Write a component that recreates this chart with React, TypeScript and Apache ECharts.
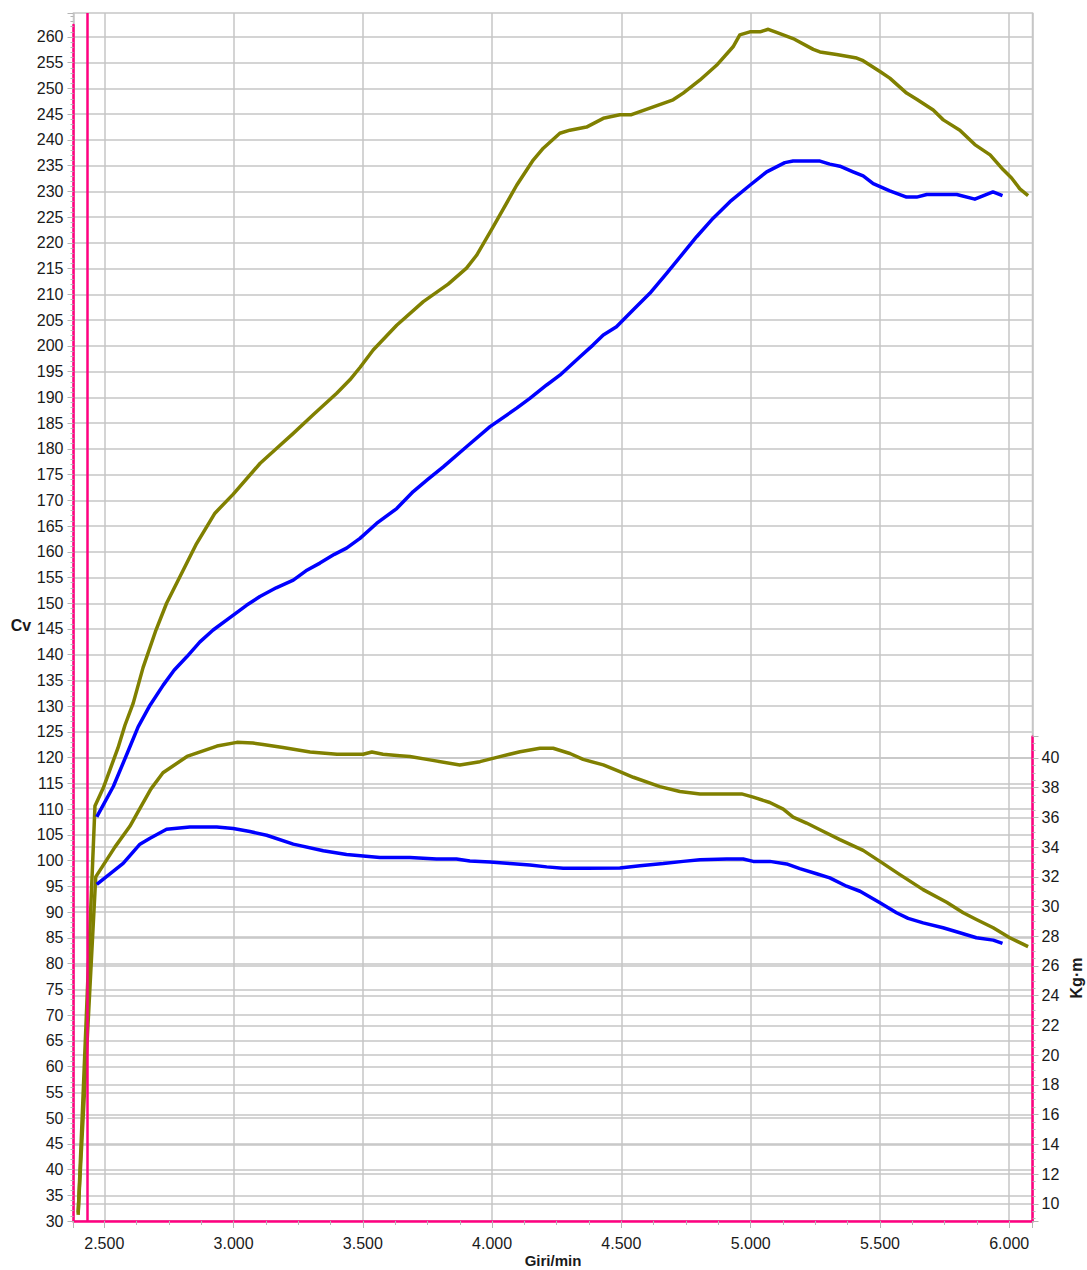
import React, { useEffect, useRef } from "react";
import * as echarts from "echarts";

// ---- data (rpm, value) ----
const powerOlive: [number, number][] = [
  [2399, 31.2], [2464, 110.6], [2496, 114.1], [2553, 121.9], [2580, 126.3], [2612, 130.6],
  [2650, 137.5], [2700, 144.8], [2741, 150.0], [2793, 155.2], [2857, 161.6], [2928, 167.5],
  [2999, 171.2], [3103, 177.2], [3165, 180.0], [3231, 183.0], [3308, 186.6], [3399, 190.8],
  [3450, 193.4], [3489, 195.8], [3540, 199.2], [3631, 204.0], [3734, 208.6], [3830, 212.0],
  [3901, 215.1], [3940, 217.6], [4004, 223.1], [4095, 231.2], [4159, 236.1], [4198, 238.4],
  [4262, 241.3], [4301, 241.9], [4365, 242.5], [4430, 244.2], [4494, 244.9], [4539, 244.9],
  [4610, 246.2], [4700, 247.8], [4739, 249.1], [4803, 251.6], [4868, 254.5], [4932, 258.1],
  [4958, 260.4], [4997, 261.0], [5036, 261.0], [5068, 261.5], [5100, 260.9], [5164, 259.7],
  [5242, 257.6], [5268, 257.1], [5332, 256.6], [5410, 255.9], [5435, 255.4], [5500, 253.3],
  [5538, 252.0], [5603, 249.1], [5642, 247.9], [5706, 245.8], [5745, 243.9], [5809, 241.9],
  [5867, 239.1], [5926, 237.1], [5977, 234.2], [6009, 232.6], [6041, 230.5], [6073, 229.2],
];

const powerBlue: [number, number][] = [
  [2471, 108.5], [2535, 114.4], [2590, 121.0], [2631, 126.0], [2677, 130.2], [2728, 134.1],
  [2770, 137.0], [2819, 139.6], [2870, 142.5], [2921, 144.8], [2999, 147.7], [3050, 149.6],
  [3102, 151.3], [3165, 153.0], [3231, 154.5], [3280, 156.3], [3334, 157.8], [3390, 159.5],
  [3437, 160.7], [3489, 162.6], [3553, 165.5], [3631, 168.4], [3695, 171.7], [3750, 174.0],
  [3811, 176.5], [3901, 180.4], [3992, 184.3], [4095, 187.9], [4146, 189.8], [4211, 192.4],
  [4262, 194.3], [4340, 197.9], [4391, 200.2], [4430, 202.1], [4481, 203.7], [4546, 207.0],
  [4610, 210.2], [4675, 214.1], [4739, 218.0], [4791, 221.2], [4855, 224.8], [4920, 228.0],
  [4997, 231.2], [5062, 233.8], [5132, 235.6], [5164, 235.9], [5268, 235.9], [5306, 235.3],
  [5345, 234.9], [5396, 233.8], [5435, 233.0], [5474, 231.5], [5538, 230.1], [5603, 228.9],
  [5642, 228.9], [5681, 229.4], [5797, 229.4], [5867, 228.5], [5937, 229.9], [5974, 229.2],
];

const torqueOlive: [number, number][] = [
  [2399, 9.4], [2467, 32.0], [2541, 34.0], [2599, 35.4], [2638, 36.6], [2680, 37.9],
  [2727, 39.0], [2820, 40.1], [2936, 40.8], [3013, 41.05], [3075, 41.0], [3114, 40.9],
  [3191, 40.7], [3296, 40.4], [3400, 40.25], [3501, 40.25], [3535, 40.4], [3578, 40.25],
  [3643, 40.15], [3682, 40.1], [3759, 39.87], [3875, 39.53], [3953, 39.75], [4030, 40.09],
  [4108, 40.42], [4185, 40.65], [4236, 40.65], [4301, 40.3], [4352, 39.9], [4430, 39.53],
  [4494, 39.08], [4546, 38.7], [4649, 38.07], [4726, 37.74], [4804, 37.58], [4881, 37.58],
  [4965, 37.58], [5010, 37.36], [5074, 37.0], [5126, 36.56], [5164, 36.02], [5216, 35.62],
  [5268, 35.17], [5345, 34.5], [5435, 33.78], [5500, 33.04], [5577, 32.15], [5667, 31.14],
  [5758, 30.29], [5822, 29.58], [5873, 29.13], [5938, 28.57], [6002, 27.9], [6073, 27.3],
];

const torqueBlue: [number, number][] = [
  [2471, 31.5], [2573, 32.9], [2638, 34.2], [2677, 34.6], [2741, 35.2], [2831, 35.35],
  [2935, 35.35], [2999, 35.25], [3063, 35.05], [3128, 34.8], [3231, 34.2], [3347, 33.75],
  [3437, 33.5], [3566, 33.3], [3682, 33.3], [3785, 33.2], [3862, 33.2], [3914, 33.07],
  [3992, 33.0], [4069, 32.89], [4146, 32.8], [4211, 32.67], [4275, 32.57], [4365, 32.57],
  [4494, 32.6], [4572, 32.75], [4662, 32.89], [4739, 33.04], [4804, 33.15], [4907, 33.2],
  [4971, 33.2], [5010, 33.04], [5074, 33.04], [5139, 32.87], [5190, 32.55], [5255, 32.21],
  [5306, 31.93], [5371, 31.37], [5423, 31.03], [5500, 30.25], [5564, 29.58], [5609, 29.2],
  [5667, 28.9], [5744, 28.57], [5809, 28.24], [5873, 27.9], [5938, 27.74], [5974, 27.52],
];

const cursorRpm = 2433;

// axis ranges
const rpmMin = 2381;
const rpmMax = 6090;
const cvMin = 30;
const cvMaxFrame = 264.66;
const cvMaxAxisLine = 262.33;
const kgmMin = 8.84;
const kgmMax = 41.43;

const OLIVE = "#808000";
const BLUE = "#0000ff";
const MAGENTA = "#ff0080";
const GRID = "#c6c6c6";
const TICK = "#b4b4b4";
const FONT = "'Liberation Sans', Arial, Helvetica, sans-serif";
const TEXT = "#1a1a1a";

const gridBox = { left: 73.5, right: 54.5, bottom: 49, containLabel: false, outerBoundsMode: "none" };

export default function App() {
  const ref = useRef<HTMLDivElement>(null);

  useEffect(() => {
    document.body.style.margin = "0";
    if (!ref.current) return;
    const chart = echarts.init(ref.current, undefined, { renderer: "svg" });

    const hiddenX = (gridIndex: number) => ({
      type: "value",
      gridIndex,
      min: rpmMin,
      max: rpmMax,
      show: false,
    });

    const option: any = {
      animation: false,
      backgroundColor: "#ffffff",
      grid: [
        { ...gridBox, top: 13, show: true, borderColor: GRID, borderWidth: 1.5, backgroundColor: "transparent" },
        { ...gridBox, top: 25, show: false },
        { ...gridBox, top: 736.7, show: false },
      ],
      xAxis: [
        {
          type: "value",
          gridIndex: 0,
          min: rpmMin,
          max: rpmMax,
          splitNumber: 7,
          position: "bottom",
          axisLine: { show: true, onZero: false, lineStyle: { color: MAGENTA, width: 2.5 } },
          axisTick: { show: true, length: 7, lineStyle: { color: TICK, width: 1 } },
          minorTick: { show: true, splitNumber: 4, length: 4, lineStyle: { color: TICK, width: 1 } },
          minorSplitLine: { show: false },
          axisLabel: {
            show: true,
            showMinLabel: false,
            showMaxLabel: false,
            fontSize: 16,
            fontFamily: FONT,
            color: TEXT,
            margin: 14,
            formatter: (v: number) => (Math.abs(v % 500) < 1e-6 ? (v / 1000).toFixed(3) : ""),
          },
          splitLine: { show: true, lineStyle: { color: GRID, width: 1.5 } },
          name: "Giri/min",
          nameLocation: "middle",
          nameGap: 31,
          nameMoveOverlap: false,
          nameTextStyle: { fontSize: 15, fontWeight: "bold", fontFamily: FONT, color: TEXT, lineHeight: 16 },
        },
        hiddenX(1),
        hiddenX(2),
      ],
      yAxis: [
        {
          type: "value",
          gridIndex: 0,
          min: cvMin,
          max: cvMaxFrame,
          interval: 5,
          position: "left",
          axisLine: { show: false },
          axisTick: { show: true, length: 6, lineStyle: { color: TICK, width: 1 } },
          minorTick: { show: true, splitNumber: 5, length: 3, lineStyle: { color: TICK, width: 1 } },
          axisLabel: {
            show: true,
            fontSize: 16,
            fontFamily: FONT,
            color: TEXT,
            margin: 10,
            formatter: (v: number) => (Math.abs(v % 5) < 1e-6 ? String(v) : ""),
          },
          splitLine: { show: true, showMaxLine: false, lineStyle: { color: GRID, width: 1.5 } },
        },
        {
          type: "value",
          gridIndex: 1,
          min: cvMin,
          max: cvMaxAxisLine,
          position: "left",
          axisLine: { show: true, onZero: false, lineStyle: { color: MAGENTA, width: 2.5 } },
          axisTick: { show: false },
          axisLabel: { show: false },
          splitLine: { show: false },
        },
        {
          type: "value",
          gridIndex: 2,
          min: kgmMin,
          max: kgmMax,
          splitNumber: 16,
          position: "right",
          axisLine: { show: true, onZero: false, lineStyle: { color: MAGENTA, width: 2.5 } },
          axisTick: { show: true, length: 6, lineStyle: { color: TICK, width: 1 } },
          minorTick: { show: true, splitNumber: 4, length: 3, lineStyle: { color: TICK, width: 1 } },
          axisLabel: {
            show: true,
            showMinLabel: false,
            showMaxLabel: false,
            fontSize: 16,
            fontFamily: FONT,
            color: TEXT,
            margin: 9,
            formatter: (v: number) =>
              Math.abs(v - Math.round(v)) < 1e-6 && Math.round(v) % 2 === 0 ? String(Math.round(v)) : "",
          },
          splitLine: { show: true, showMinLine: false, showMaxLine: false, lineStyle: { color: GRID, width: 1.5 } },
        },
      ],
      graphic: [
        {
          type: "text",
          x: 21,
          y: 625,
          style: { text: "Cv", font: `bold 16px ${FONT}`, fill: TEXT, textAlign: "center", textVerticalAlign: "middle" },
        },
        {
          type: "text",
          x: 1076,
          y: 978,
          rotation: Math.PI / 2,
          style: { text: "Kg·m", font: `bold 16px ${FONT}`, fill: TEXT, textAlign: "center", textVerticalAlign: "middle" },
        },
      ],
      series: [
        {
          type: "line",
          name: "Cv olive",
          xAxisIndex: 0,
          yAxisIndex: 0,
          data: powerOlive,
          showSymbol: false,
          lineStyle: { color: OLIVE, width: 3.5, join: "round" },
          itemStyle: { color: OLIVE },
          z: 3,
          markLine: {
            silent: true,
            symbol: ["none", "none"],
            label: { show: false },
            lineStyle: { color: MAGENTA, width: 2.5, type: "solid" },
            data: [{ xAxis: cursorRpm }],
          },
        },
        {
          type: "line",
          name: "Cv blue",
          xAxisIndex: 0,
          yAxisIndex: 0,
          data: powerBlue,
          showSymbol: false,
          lineStyle: { color: BLUE, width: 3.5, join: "round" },
          itemStyle: { color: BLUE },
          z: 3,
        },
        {
          type: "line",
          name: "Kgm olive",
          xAxisIndex: 2,
          yAxisIndex: 2,
          data: torqueOlive,
          showSymbol: false,
          lineStyle: { color: OLIVE, width: 3.5, join: "round" },
          itemStyle: { color: OLIVE },
          z: 3,
        },
        {
          type: "line",
          name: "Kgm blue",
          xAxisIndex: 2,
          yAxisIndex: 2,
          data: torqueBlue,
          showSymbol: false,
          lineStyle: { color: BLUE, width: 3.5, join: "round" },
          itemStyle: { color: BLUE },
          z: 3,
        },
      ],
    };

    chart.setOption(option);
    return () => chart.dispose();
  }, []);

  return <div ref={ref} style={{ width: 1087, height: 1270 }} />;
}
